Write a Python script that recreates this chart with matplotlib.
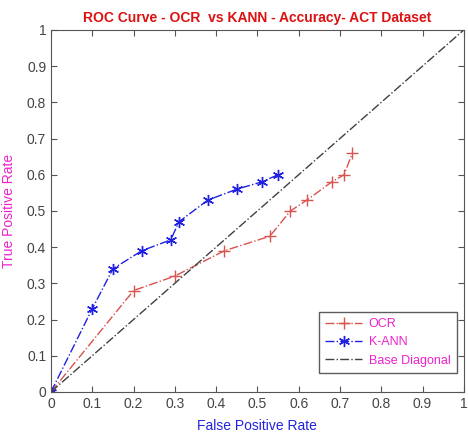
import matplotlib
matplotlib.use('Agg')
import matplotlib.pyplot as plt
import numpy as np

plt.rcParams['font.family'] = ['Liberation Sans', 'DejaVu Sans']

ocr_fpr = [0, 0.20, 0.30, 0.42, 0.53, 0.58, 0.62, 0.68, 0.71, 0.73]
ocr_tpr = [0, 0.28, 0.32, 0.39, 0.43, 0.50, 0.53, 0.58, 0.60, 0.66]
kann_fpr = [0, 0.10, 0.15, 0.22, 0.29, 0.31, 0.38, 0.45, 0.51, 0.55]
kann_tpr = [0, 0.23, 0.34, 0.39, 0.42, 0.47, 0.53, 0.56, 0.58, 0.60]
diag = [0, 1]
ticks = np.round(np.arange(0, 1.01, 0.1), 1)
tick_labels = ['0', '0.1', '0.2', '0.3', '0.4', '0.5', '0.6', '0.7', '0.8', '0.9', '1']

fig = plt.figure(figsize=(4.68, 4.34), dpi=100)
ax = fig.add_axes([0.109, 0.097, 0.882, 0.834])

ax.plot(ocr_fpr, ocr_tpr, linestyle='-.', color='#d9534f', marker='+',
        markersize=8, markeredgewidth=1.0, linewidth=1.0, label='OCR')
ax.plot(kann_fpr, kann_tpr, linestyle='-.', color='#2020e0', marker=(6, 2, 0),
        markersize=8, markeredgewidth=1.0, linewidth=1.0, label='K-ANN')
ax.plot(diag, diag, linestyle='-.', color='#404040', linewidth=1.0,
        label='Base Diagonal')

ax.set_xlim(0, 1)
ax.set_ylim(0, 1)
ax.set_xticks(ticks)
ax.set_yticks(ticks)
ax.set_xticklabels(tick_labels)
ax.set_yticklabels(tick_labels)
ax.tick_params(direction='in', top=True, right=True, colors='#555555',
               labelsize=10, length=4, labelcolor='#444444')
for s in ax.spines.values():
    s.set_color('#555555')

ax.set_title('ROC Curve - OCR  vs KANN - Accuracy- ACT Dataset', color='#dd1111',
             fontsize=10, fontweight='bold', pad=6)
ax.set_xlabel('False Positive Rate', color='#2222dd', fontsize=10, labelpad=6)
ax.set_ylabel('True Positive Rate', color='#ee22cc', fontsize=10, labelpad=8)

leg = ax.legend(loc='lower right', fontsize=9, frameon=True, fancybox=False,
                edgecolor='#333333', handlelength=3.0, handletextpad=0.5,
                borderpad=0.5, bbox_to_anchor=(0.998, 0.035))
for t in leg.get_texts():
    t.set_color('#ee22cc')

fig.savefig('out.png', dpi=100)
